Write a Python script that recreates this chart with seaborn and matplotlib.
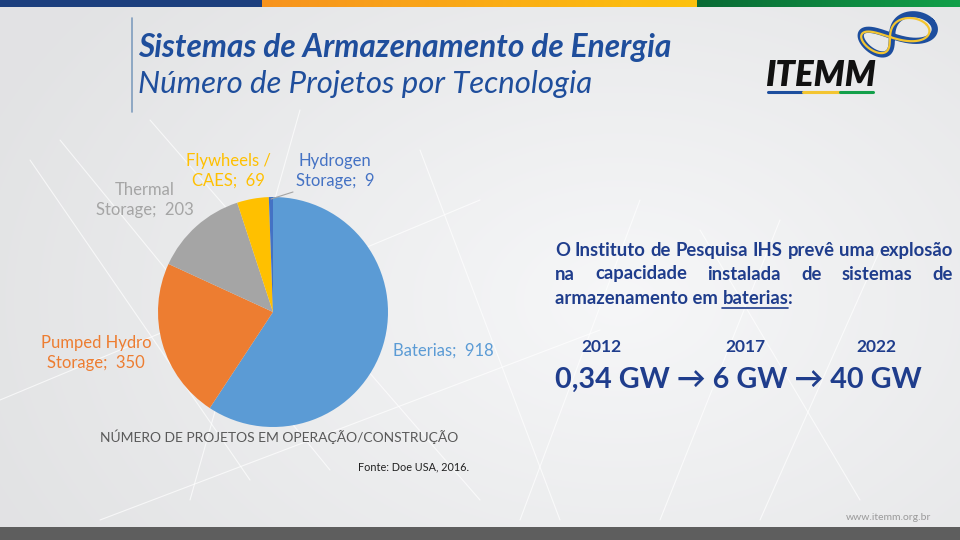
import numpy as np
import matplotlib
matplotlib.use("Agg")
import matplotlib.pyplot as plt
import seaborn as sns
from matplotlib.colors import LinearSegmentedColormap

# ---- data ----
tech_labels = ["Baterias", "Pumped Hydro\nStorage", "Thermal\nStorage", "Flywheels /\nCAES", "Hydrogen\nStorage"]
tech_values = [918, 350, 203, 69, 9]
tech_colors = ["#5B9BD5", "#ED7D31", "#A5A5A5", "#FFC000", "#4472C4"]
forecast_years = ["2012", "2017", "2022"]
forecast_gw = ["0,34 GW", "6 GW", "40 GW"]

sns.set_theme(style="white")
plt.rcParams['font.family'] = ['Lato', 'DejaVu Sans']

W, H = 960, 540
fig = plt.figure(figsize=(9.6, 5.4), dpi=100)

def P(x, y):
    return (x / W, 1 - y / H)

# background
bg = fig.add_axes([0, 0, 1, 1])
bg.set_xlim(0, W); bg.set_ylim(H, 0); bg.axis('off')
yy, xx = np.mgrid[0:H, 0:W]
d = np.sqrt(((xx - 620) / 520.0) ** 2 + ((yy - 300) / 360.0) ** 2)
val = 0.965 - 0.06 * np.clip(d, 0, 1.3)
img = np.dstack([val, val + 0.003, val + 0.008])
bg.imshow(np.clip(img, 0, 1), extent=[0, W, H, 0], aspect='auto', zorder=0)
rng_lines = [((30, 160), (250, 480)), ((60, 140), (330, 470)), ((150, 120), (480, 500)),
             ((300, 110), (190, 500)), ((420, 150), (560, 520)), ((640, 200), (520, 520)),
             ((700, 230), (860, 500)), ((780, 220), (660, 520)), ((880, 250), (760, 520)),
             ((0, 400), (480, 200)), ((100, 520), (600, 330))]
for (a, b) in rng_lines:
    bg.plot([a[0], b[0]], [a[1], b[1]], color='white', lw=0.8, alpha=0.7, zorder=1)
# top colour bar
bg.add_patch(plt.Rectangle((0, 0), 262, 7, color='#1C3F7E', zorder=2, lw=0))
grad = np.linspace(0, 1, 200)[None, :]
cm = LinearSegmentedColormap.from_list('oy', ['#F7931E', '#FDC20E'])
bg.imshow(grad, extent=[262, 697, 7, 0], cmap=cm, aspect='auto', zorder=2)
cmg = LinearSegmentedColormap.from_list('g', ['#0A6B35', '#12A04A'])
bg.imshow(grad, extent=[697, 960, 7, 0], cmap=cmg, aspect='auto', zorder=2)
# bottom strip
bg.add_patch(plt.Rectangle((0, 527), 960, 13, color='#5E5E5E', zorder=2, lw=0))
# vertical line near title
bg.plot([132, 132], [18, 112], color='#7F9DBE', lw=1.2, zorder=2)

# logo
t = np.linspace(0, 2 * np.pi, 400)
lx = np.cos(t) / (1 + np.sin(t) ** 2) * (1 + 0.2 * np.cos(t))
ly = np.sin(t) * np.cos(t) / (1 + np.sin(t) ** 2) * 1.6
ang = np.deg2rad(30)
rx = lx * np.cos(ang) - ly * np.sin(ang)
ry = lx * np.sin(ang) + ly * np.cos(ang)
bg.plot(892 + 38 * rx, 36 - 24 * ry, color='#1D4E9E', lw=4.5, zorder=3, solid_capstyle='round')
bg.plot(890 + 35 * rx, 37 - 21 * ry, color='#F3C531', lw=1.6, zorder=4)
bg.text(820, 76, "ITEMM", fontsize=25, fontweight='heavy', fontstyle='italic',
        color='#111111', ha='center', va='center', zorder=5, family=['Lato', 'DejaVu Sans'])
bg.plot([768, 803], [92, 92], color='#1D4E9E', lw=2.2, zorder=5)
bg.plot([803, 840], [92, 92], color='#F3C531', lw=2.2, zorder=5)
bg.plot([840, 873], [92, 92], color='#13A04A', lw=2.2, zorder=5)

# titles
fig.text(*P(138, 47), "Sistemas de Armazenamento de Energia", fontsize=22.8, fontweight='bold',
         fontstyle='italic', color='#1F4E9C', va='center', ha='left')
fig.text(*P(138, 84), "Número de Projetos por Tecnologia", fontsize=22.4,
         fontstyle='italic', color='#1F4E9C', va='center', ha='left')

# pie
cx, cy, r = 273, 312, 115
ax = fig.add_axes([(cx - r) / W, (H - cy - r) / H, 2 * r / W, 2 * r / H])
ax.pie(tech_values, colors=tech_colors, startangle=90, counterclock=False,
       wedgeprops=dict(linewidth=0), radius=1)
ax.set_xlim(-1, 1); ax.set_ylim(-1, 1); ax.set_aspect('equal'); ax.axis('off')

def D(px, py):
    return ((px - cx) / r, (cy - py) / r)

label_pos = [(443, 351), (96, 353), (145, 200), (228, 171), (335, 171)]
for lab, v, c, pos in zip(tech_labels, tech_values, tech_colors, label_pos):
    ax.text(*D(*pos), f"{lab};  {v}", color=c, fontsize=12, ha='center', va='center',
            multialignment='center', linespacing=1.3, clip_on=False)
ax.plot(*zip(D(293, 192), D(271, 199)), color='#A5A5A5', lw=0.8, clip_on=False)

# right text block
txt_color = '#1F3D8C'
fig.canvas.draw()
renderer = fig.canvas.get_renderer()
FS = 13.3

def justify(words, x0, x1, y, size):
    arts = [fig.text(*P(x0, y), w, fontsize=size, fontweight='bold', color=txt_color,
                     va='center', ha='left') for w in words]
    widths = [a.get_window_extent(renderer).width for a in arts]
    gap = (x1 - x0 - sum(widths)) / (len(words) - 1)
    x = x0
    for a, wd in zip(arts, widths):
        a.set_position(P(x, y))
        x += wd + gap

justify("O Instituto de Pesquisa IHS prevê uma explosão".split(), 555, 953, 250, FS)
justify("na capacidade instalada de sistemas de".split(), 555, 953, 274, FS)
a1 = fig.text(*P(555, 298), "armazenamento em ", fontsize=FS, fontweight='bold', color=txt_color,
              va='center', ha='left')
w1 = a1.get_window_extent(renderer).width
a2 = fig.text(*P(555 + w1, 298), "baterias", fontsize=FS, fontweight='bold', color=txt_color,
              va='center', ha='left')
w2 = a2.get_window_extent(renderer).width
fig.text(*P(555 + w1 + w2, 298), ":", fontsize=FS, fontweight='bold', color=txt_color,
         va='center', ha='left')
bg.plot([555 + w1, 555 + w1 + w2], [308, 308], color=txt_color, lw=1.2, zorder=5)

for yr, xc in zip(forecast_years, [601, 745, 876]):
    fig.text(*P(xc, 347), yr, fontsize=12.5, fontweight='bold', color=txt_color, ha='center', va='center')
big = f"{forecast_gw[0]} \u2192 {forecast_gw[1]} \u2192 {forecast_gw[2]}"
fig.text(*P(555, 380), big, fontsize=20.7, fontweight='bold', color=txt_color, ha='left', va='center')

fig.text(*P(100, 437), "NÚMERO DE PROJETOS EM OPERAÇÃO/CONSTRUÇÃO", fontsize=10, color='#595959',
         ha='left', va='center')
fig.text(*P(358, 467), "Fonte: Doe USA, 2016.", fontsize=7.8, color='#222222', ha='left', va='center')
fig.text(*P(889, 517), "www.itemm.org.br", fontsize=7.5, color='#9A9A9A', ha='center', va='center')

fig.savefig("out.png", dpi=100)
